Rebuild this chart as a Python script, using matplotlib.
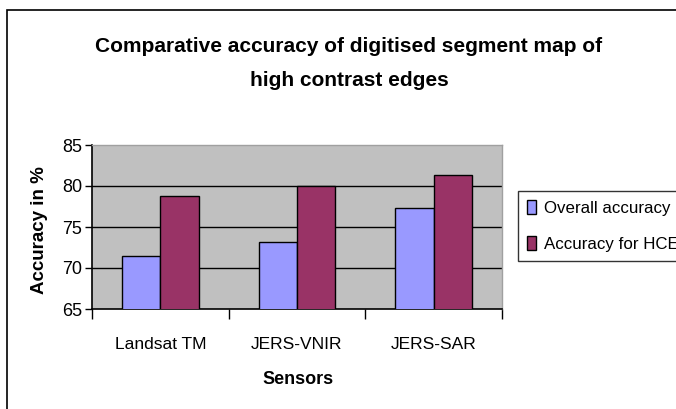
import matplotlib.pyplot as plt
import numpy as np
from matplotlib.patches import Rectangle

sensors = ["Landsat TM", "JERS-VNIR", "JERS-SAR"]
overall_accuracy = [71.5, 73.2, 77.3]
hce_accuracy = [78.8, 80.0, 81.3]
series_names = ["Overall accuracy", "Accuracy for HCE"]

plt.rcParams["font.family"] = ["Liberation Sans", "DejaVu Sans"]

fig = plt.figure(figsize=(6.76, 4.09), dpi=100)
W, H = 676, 409

# outer chart border (runs off the right and bottom edge)
fig.patches.append(Rectangle((7 / W, -0.1), 1.2, 1.1 - 10 / H, transform=fig.transFigure,
                             fill=False, edgecolor="black", linewidth=1.2))

ax = fig.add_axes([92 / W, 1 - 309 / H, (502 - 92) / W, (309 - 145) / H])
ax.set_facecolor("#C0C0C0")

x = np.arange(len(sensors))
w = 0.28
b1 = ax.bar(x - w / 2, overall_accuracy, w, color="#9999FF", edgecolor="black",
            linewidth=1.0, label=series_names[0], zorder=3)
b2 = ax.bar(x + w / 2, hce_accuracy, w, color="#993366", edgecolor="black",
            linewidth=1.0, label=series_names[1], zorder=3)

ax.set_ylim(65, 85)
ax.set_xlim(-0.5, len(sensors) - 0.5)
ax.set_yticks([65, 70, 75, 80, 85])
for v in [70, 75, 80]:
    ax.axhline(v, color="black", linewidth=1.0, zorder=1)

ax.set_xticks(x)
ax.set_xticklabels(sensors, fontsize=12.5)
ax.set_xticks(np.arange(-0.5, len(sensors)), minor=True)
ax.tick_params(axis="x", which="major", length=0, pad=20)
ax.tick_params(axis="x", which="minor", length=7, width=1.0, color="black")
ax.tick_params(axis="y", length=5, width=1.0, labelsize=13, pad=2)

for side in ["top", "right"]:
    ax.spines[side].set_color("#A0A0A0")
    ax.spines[side].set_linewidth(1.0)
for side in ["left", "bottom"]:
    ax.spines[side].set_color("black")
    ax.spines[side].set_linewidth(1.2)

ax.set_ylabel("Accuracy in %", fontsize=13.5, fontweight="bold")
ax.yaxis.set_label_coords((40 - 92) / 410, 0.48)
ax.yaxis.label.set_va("center")
ax.set_xlabel("Sensors", fontsize=13, fontweight="bold")
ax.xaxis.set_label_coords((298 - 92) / 410, (309 - 380) / 164)
ax.xaxis.label.set_va("center")

fig.text(349 / W, 1 - 46 / H, "Comparative accuracy of digitised segment map of",
         ha="center", va="center", fontsize=15, fontweight="bold")
fig.text(349 / W, 1 - 81 / H, "high contrast edges",
         ha="center", va="center", fontsize=15, fontweight="bold")

# legend box runs past the right edge, as in the original
leg = fig.legend(handles=[b1, b2], loc="upper left", bbox_to_anchor=(518 / W, 1 - 191 / H),
                 fontsize=12.2, frameon=True, fancybox=False, handlelength=0.5,
                 handleheight=0.9, handletextpad=0.5, borderpad=0.55, labelspacing=1.15,
                 borderaxespad=0)
leg.get_frame().set_edgecolor("black")
leg.get_frame().set_linewidth(1.0)

fig.savefig("out.png", dpi=100)
